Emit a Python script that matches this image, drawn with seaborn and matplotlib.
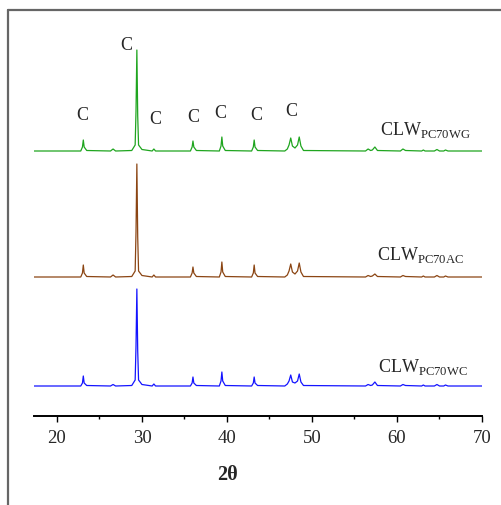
import matplotlib
matplotlib.use("Agg")
import matplotlib.pyplot as plt
from matplotlib.lines import Line2D
from matplotlib.ticker import MultipleLocator
import seaborn as sns
import pandas as pd

# XRD patterns (2theta in degrees, intensity in arbitrary units)
two_theta = [17.3, 22.8, 23.0, 23.1, 23.2, 23.5, 26.3, 26.6, 26.9,
             28.8, 29.2, 29.3, 29.4, 29.5, 29.6, 30.0, 31.2, 31.4, 31.6,
             35.7, 35.9, 36.0, 36.1, 36.4, 39.1, 39.3, 39.4, 39.5, 39.8,
             42.9, 43.1, 43.2, 43.3, 43.6, 46.8, 47.1, 47.3, 47.5, 47.7,
             48.0, 48.3, 48.5, 48.7, 49.0, 56.3, 56.6, 56.9, 57.1, 57.4,
             57.7, 60.4, 60.7, 61.0, 62.9, 63.1, 63.3, 64.4, 64.7, 65.0,
             65.5, 65.7, 66.0, 70.0]

i_wg = [0, 0, 4, 11, 4, 0.5, 0, 2, 0,
        0.5, 6, 40, 101, 35, 6, 1.5, 0, 2, 0,
        0, 4, 10, 4, 0.5, 0, 5, 14, 5, 0.5,
        0, 4, 11, 4, 0.5, 0, 2, 6, 13, 5,
        3, 6, 14, 5, 0.5, 0, 2, 0.5, 1, 4,
        0.5, 0, 2, 0.5, 0, 1, 0, 0, 1.5, 0,
        0, 1, 0, 0]

i_ac = [0, 0, 4, 12, 4, 0.5, 0, 2, 0,
        0.5, 6, 45, 113, 40, 6, 1.5, 0, 2, 0,
        0, 4, 10, 4, 0.5, 0, 5, 15, 5, 0.5,
        0, 4, 12, 4, 0.5, 0, 2, 6, 13, 5,
        3, 6, 14, 5, 0.5, 0, 1.5, 0.5, 1, 3,
        0.5, 0, 1.5, 0.5, 0, 1, 0, 0, 1.5, 0,
        0, 1, 0, 0]

i_wc = [0, 0, 3, 10, 3, 0.5, 0, 1.5, 0,
        0.5, 6, 40, 97, 35, 6, 1.5, 0, 2, 0,
        0, 3, 9, 3, 0.5, 0, 5, 14, 5, 0.5,
        0, 3, 9, 3, 0.5, 0, 2, 5, 11, 4,
        3, 5, 12, 4, 0.5, 0, 1.5, 0.5, 1, 4,
        0.5, 0, 1.5, 0.5, 0, 1, 0, 0, 1.5, 0,
        0, 1, 0, 0]

samples = ["PC70WG", "PC70AC", "PC70WC"]
offsets = [265, 139, 30]
colors = ["#1fa51f", "#8b4513", "#1414ff"]

# calcite ("C") peak labels
c_x = [23.0, 28.2, 31.6, 36.0, 39.2, 43.5, 47.6]
c_y = [301, 372, 298, 299, 304, 302, 305]

# sample name positions
name_x = [58.0, 57.6, 57.8]
name_y = [282, 157, 45]

frames = []
for name, inten, off in zip(samples, [i_wg, i_ac, i_wc], offsets):
    frames.append(pd.DataFrame({"two_theta": two_theta,
                                "y": [v + off for v in inten],
                                "sample": name}))
df = pd.concat(frames, ignore_index=True)

sns.set_style("white")
plt.rcParams["font.family"] = ["Liberation Serif", "DejaVu Serif"]
plt.rcParams["mathtext.fontset"] = "custom"
plt.rcParams["mathtext.rm"] = "Liberation Serif"

fig = plt.figure(figsize=(5.02, 5.06), dpi=100)
ax = fig.add_axes([34 / 502, 89 / 506, 448 / 502, 397 / 506])

sns.lineplot(data=df, x="two_theta", y="y", hue="sample", palette=colors,
             hue_order=samples, estimator=None, sort=False, lw=0.9,
             legend=False, ax=ax)

for x, y in zip(c_x, c_y):
    ax.text(x, y, "C", ha="center", va="center", fontsize=13)

for name, x, y in zip(samples, name_x, name_y):
    ax.text(x, y, r"CLW$_{\mathregular{%s}}$" % name, ha="left",
            va="baseline", fontsize=13)

ax.set_xlim(17.3, 70)
ax.set_ylim(0, 397)
ax.set_yticks([])
ax.xaxis.set_major_locator(MultipleLocator(10))
ax.xaxis.set_minor_locator(MultipleLocator(5))
ax.tick_params(axis="x", which="major", direction="out", length=4.5,
               width=1, labelsize=13.5, pad=5, bottom=True, color="black")
ax.tick_params(axis="x", which="minor", direction="out", length=2.5,
               width=1, bottom=True, color="black")
for s in ["left", "top", "right"]:
    ax.spines[s].set_visible(False)
ax.spines["bottom"].set_color("black")
ax.spines["bottom"].set_linewidth(1.4)
ax.set_xlabel("2θ", fontsize=14.5, fontweight="bold")
ax.xaxis.set_label_coords(194 / 448, -48 / 397)
ax.set_ylabel("")

# outer frame of the source page (left and top edges)
fig.add_artist(Line2D([8 / 502, 8 / 502], [0, 1 - 11 / 506],
                      transform=fig.transFigure, color="#666666", lw=1.6))
fig.add_artist(Line2D([8 / 502, 1], [1 - 11 / 506, 1 - 11 / 506],
                      transform=fig.transFigure, color="#666666", lw=1.6))

fig.savefig("out.png", dpi=100)
